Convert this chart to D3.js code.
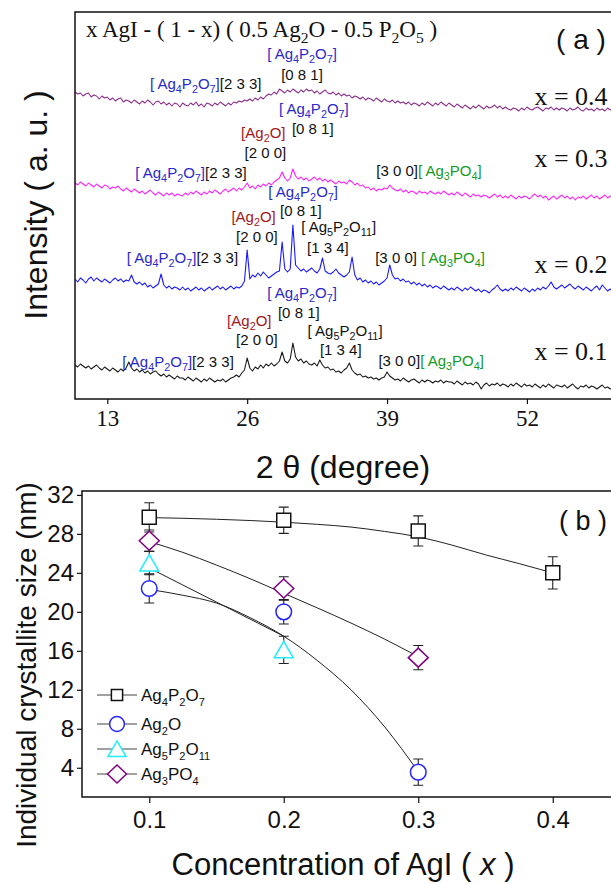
<!DOCTYPE html>
<html>
<head>
<meta charset="utf-8">
<title>XRD patterns and crystallite size</title>
<style>
body { margin: 0; background: #fff; }
svg text { font-family: "Liberation Sans", Arial, sans-serif; }
.serif, .serif text { font-family: "Liberation Serif", "Times New Roman", serif; }
</style>
</head>
<body>
<svg id="fig" width="611" height="884"></svg>
<script src="https://cdnjs.cloudflare.com/ajax/libs/d3/7.8.5/d3.min.js"></script>
<script>

// ---- panel (a): XRD patterns, 2theta grid 10..60 step 0.25 ----
var twoTheta = d3.range(10, 60.001, 0.25);

var xrd04 = [
  307,305,306,303,305,306,302,304,303,300,303,301,302,299,301,298,300,301,297,299,
  298,296,299,297,295,298,296,299,297,294,297,298,295,297,294,296,293,296,295,292,
  296,294,293,296,294,297,293,295,292,296,295,293,296,294,297,295,293,296,294,297,
  296,298,297,299,298,300,298,301,299,302,300,303,305,304,307,305,310,308,306,309,
  307,310,308,306,309,307,310,308,309,306,308,305,307,309,306,305,307,304,306,303,
  305,303,304,301,303,302,300,302,299,301,300,298,301,299,297,300,298,297,299,296,
  298,296,297,295,297,294,296,295,293,296,294,297,295,293,296,294,297,295,293,296,
  294,292,295,293,291,294,292,290,293,291,294,292,290,293,291,292,294,291,293,290,
  292,290,289,291,290,288,291,289,292,290,289,291,292,290,288,291,290,292,289,291,
  289,291,290,288,291,289,290,292,289,288,291,289,290,288,291,289,290,288,291,289,
  290];

var xrd03 = [
  216,214,217,215,213,216,214,212,215,213,211,214,213,210,212,211,213,210,208,211,
  209,207,210,208,206,208,205,207,209,206,204,207,205,203,206,204,206,203,205,204,
  203,206,204,207,205,208,206,204,207,205,208,206,209,207,205,208,210,207,209,211,
  208,211,209,212,216,211,213,210,214,212,215,213,216,214,217,219,221,227,221,218,
  221,230,223,220,222,219,221,218,220,222,219,221,218,220,217,219,217,215,218,216,
  217,215,219,217,214,216,213,214,211,212,209,211,208,210,209,211,210,214,211,209,
  208,210,207,209,206,208,207,205,208,206,207,205,208,206,205,207,205,208,206,204,
  206,204,207,205,203,206,204,202,205,203,204,202,204,203,201,203,205,202,204,201,
  203,201,204,202,200,203,201,203,202,200,203,205,202,204,201,203,199,201,203,200,
  202,204,201,203,200,202,199,202,201,203,200,202,204,201,203,200,202,204,201,203,
  202];

var xrd02 = [
  120,117,121,119,116,120,122,118,121,119,117,120,118,116,119,121,118,120,117,119,
  118,124,117,115,117,114,116,112,114,111,113,115,125,114,111,113,110,112,111,109,
  112,109,111,108,110,112,109,111,108,110,112,109,111,113,110,112,109,111,113,110,
  112,111,113,118,149,120,124,122,126,123,127,124,121,123,125,127,128,157,130,127,
  130,174,134,131,128,130,127,129,131,128,126,130,141,128,126,125,127,130,126,124,
  122,124,127,142,124,119,121,117,119,116,118,115,117,114,116,118,121,134,124,120,
  121,118,120,117,118,115,117,114,116,113,115,112,114,111,113,112,110,113,111,109,
  111,109,112,110,108,111,109,112,110,108,110,107,109,108,106,109,111,114,110,108,
  110,108,111,109,112,110,108,111,109,107,110,108,111,109,112,110,113,117,112,110,
  112,114,111,113,115,112,110,113,111,109,112,110,108,111,113,109,114,111,108,110,
  107];

var xrd01 = [
  34,32,35,33,31,33,30,32,34,31,29,32,30,28,31,29,27,30,28,31,
  37,31,28,30,27,29,26,28,25,27,28,25,23,25,22,24,22,20,23,21,
  21,19,22,20,18,21,19,17,20,18,21,19,17,19,18,20,17,19,21,22,
  24,22,26,29,41,31,28,32,30,34,31,35,33,36,33,35,38,47,38,36,
  40,56,42,38,40,36,38,35,34,36,33,39,34,31,32,29,30,27,28,26,
  29,31,36,29,26,24,25,22,23,21,22,20,21,19,21,22,27,23,21,19,
  20,18,21,19,17,19,20,18,16,19,17,19,18,16,18,17,19,16,18,17,
  17,15,18,16,14,17,15,16,14,17,15,10,14,16,13,15,14,16,13,15,
  14,12,15,13,16,14,12,15,13,14,12,15,13,11,14,12,15,13,11,14,
  13,12,14,11,13,15,12,10,13,12,14,11,13,12,10,12,14,11,12,10,
  11];

var compositions = ['x = 0.4', 'x = 0.3', 'x = 0.2', 'x = 0.1'];
var compositionLevel = [294, 232, 126, 39];   // a.u. at label baseline
var thetaTicks = [13, 26, 39, 52];

// peak labels: [2theta, intensity, anchor, segments...]
var peakLabels = [
  [16.97, 310, 'start', '[ Ag{4}P{2}O{7}]', '[2 3 3]'],
  [31.1, 340, 'middle', '[ Ag{4}P{2}O{7}]'],
  [31.1, 319, 'middle', '[0 8 1]'],

  [32.2, 285, 'middle', '[ Ag{4}P{2}O{7}]'],
  [32.1, 265, 'middle', '[0 8 1]'],
  [27.5, 261, 'middle', '[Ag{2}O]'],
  [27.7, 241, 'middle', '[2 0 0]'],
  [15.6, 221, 'start', '[ Ag{4}P{2}O{7}]', '[2 3 3]'],
  [38.0, 223, 'start', '[3 0 0]', '[ Ag{3}PO{4}]'],

  [31.2, 202, 'middle', '[ Ag{4}P{2}O{7}]'],
  [31.0, 183, 'middle', '[0 8 1]'],
  [26.6, 177, 'middle', '[Ag{2}O]'],
  [26.9, 157, 'middle', '[2 0 0]'],
  [34.5, 167, 'middle', '[ Ag{5}P{2}O{11}]'],
  [33.5, 146, 'middle', '[1 3 4]'],
  [14.8, 136, 'start', '[ Ag{4}P{2}O{7}]', '[2 3 3]'],
  [37.9, 136, 'start', '[3 0 0] ', '[ Ag{3}PO{4}]'],

  [31.1, 101, 'middle', '[ Ag{4}P{2}O{7}]'],
  [30.8, 81, 'middle', '[0 8 1]'],
  [26.2, 73, 'middle', '[Ag{2}O]'],
  [26.9, 54, 'middle', '[2 0 0]'],
  [35.1, 63, 'middle', '[ Ag{5}P{2}O{11}]'],
  [34.7, 44, 'middle', '[1 3 4]'],
  [14.4, 32, 'start', '[ Ag{4}P{2}O{7}]', '[2 3 3]'],
  [38.2, 33, 'start', '[3 0 0]', '[ Ag{3}PO{4}]']
];

// ---- panel (b): crystallite size vs AgI content ----
var concentration = [0.1, 0.2, 0.3, 0.4];
var sizeAg4P2O7 = [29.7, 29.4, 28.3, 24.0];
var errAg4P2O7 = [1.5, 1.35, 1.55, 1.65];
var sizeAg2O = [22.4, 20.0, 3.55];
var errAg2O = [1.5, 1.25, 1.35];
var sizeAg5P2O11 = [25.0, 16.1];
var errAg5P2O11 = [1.2, 1.4];
var sizeAg3PO4 = [27.3, 22.4, 15.3];
var errAg3PO4 = [1.1, 1.2, 1.25];

// fitted curves, read at x = 0.1, 0.125, 0.15 ...
var fitX = [0.1, 0.125, 0.15, 0.175, 0.2, 0.225, 0.25, 0.275, 0.3, 0.325, 0.35, 0.375, 0.4];
var fitAg4P2O7 = [29.67, 29.6, 29.5, 29.37, 29.2, 28.98, 28.7, 28.25, 27.7, 26.85, 25.85, 24.95, 24.0];
var fitAg2O = [22.3, 21.7, 20.9, 19.4, 17.5, 15.0, 12.0, 8.2, 3.6];
var fitAg5P2O11 = [24.5, 22.75, 21.0, 19.25, 17.5];
var fitAg3PO4 = [27.2, 26.1, 24.8, 23.4, 21.9, 20.4, 18.85, 17.2, 15.4];

var sizeTicks = [4, 8, 12, 16, 20, 24, 28, 32];
var concTicks = [0.1, 0.2, 0.3, 0.4];

// ---------------------------------------------------------------
var BLUE = '#2a2ac8', RED = '#a3161a', GREEN = '#169a1e', INK = '#111';
var phaseColor = [['Ag{4}P{2}O{7}', BLUE], ['Ag{2}O', RED], ['Ag{3}PO{4}', GREEN]];

function segColor(s) {
  for (var i = 0; i < phaseColor.length; i++) {
    if (s.indexOf(phaseColor[i][0]) >= 0) return phaseColor[i][1];
  }
  return INK;
}

// write "Ag{4}P{2}O{7}" with subscripts into a text element
function addRich(text, str, size, color, subScale) {
  var parts = str.split(/(\{[^}]*\})/), lowered = false, shift = size * 0.28;
  subScale = subScale || 0.62;
  parts.forEach(function(p) {
    if (!p) return;
    var sub = p.charAt(0) === '{';
    var t = text.append('tspan').attr('fill', color).text(sub ? p.slice(1, -1) : p);
    if (sub) {
      t.style('font-size', (size * subScale) + 'px');
      if (!lowered) { t.attr('dy', shift); lowered = true; }
    } else if (lowered) {
      t.attr('dy', -shift);
      lowered = false;
    }
  });
}

var svg = d3.select('#fig');

// ================= panel (a) =================
var xA = d3.scaleLinear().domain([10, 60]).range([75, 613]);
var yA = d3.scaleLinear().domain([0, 387]).range([399, 12]);

var gA = svg.append('g');

var traces = [xrd04, xrd03, xrd02, xrd01];
var traceColors = ['#8b2d8b', '#ff22ff', '#1a1aff', '#1a1a1a'];

var line = d3.line()
    .x(function(d, i) { return xA(twoTheta[i]); })
    .y(function(d) { return yA(d); });

gA.selectAll('path.trace')
    .data(traces)
  .enter().append('path')
    .attr('class', 'trace')
    .attr('d', line)
    .attr('fill', 'none')
    .attr('stroke', function(d, i) { return traceColors[i]; })
    .attr('stroke-width', 1.1)
    .attr('stroke-linejoin', 'round');

gA.append('rect')
    .attr('x', xA(10)).attr('y', yA(387))
    .attr('width', xA(60) - xA(10)).attr('height', yA(0) - yA(387))
    .attr('fill', 'none').attr('stroke', INK).attr('stroke-width', 1.5);

var axA = gA.append('g')
    .attr('class', 'serif')
    .attr('transform', 'translate(0,' + yA(0) + ')')
    .call(d3.axisBottom(xA).tickValues(thetaTicks).tickSize(5).tickPadding(6));
axA.select('.domain').remove();
axA.selectAll('line').attr('stroke', INK).attr('stroke-width', 1.2);
axA.selectAll('text').attr('fill', INK).style('font-size', '23px');

gA.append('text')
    .attr('x', 343).attr('y', 478)
    .attr('text-anchor', 'middle')
    .style('font-size', '32px')
    .attr('fill', INK)
    .text('2 \u03b8 (degree)');

gA.append('text')
    .attr('transform', 'translate(47,205) rotate(-90)')
    .attr('text-anchor', 'middle')
    .style('font-size', '32px')
    .attr('fill', INK)
    .text('Intensity ( a. u. )');

var title = gA.append('text').attr('class', 'serif')
    .attr('x', 86).attr('y', 37)
    .style('font-size', '23px');
addRich(title, 'x AgI - ( 1 - x) ( 0.5 Ag{2}O - 0.5 P{2}O{5} )', 23, INK, 0.68);

gA.append('text')
    .attr('x', 581).attr('y', 49)
    .attr('text-anchor', 'middle')
    .style('font-size', '28px')
    .attr('fill', INK)
    .text('( a )');

gA.selectAll('text.comp')
    .data(compositions)
  .enter().append('text')
    .attr('class', 'comp serif')
    .attr('x', xA(59.5))
    .attr('y', function(d, i) { return yA(compositionLevel[i]); })
    .attr('text-anchor', 'end')
    .style('font-size', '26px')
    .attr('fill', INK)
    .text(function(d) { return d; });

peakLabels.forEach(function(l) {
  var t = gA.append('text')
      .attr('x', xA(l[0])).attr('y', yA(l[1]))
      .attr('text-anchor', l[2])
      .style('font-size', '15px');
  l.slice(3).forEach(function(s) { addRich(t, s, 15, segColor(s), 0.72); });
});

// ================= panel (b) =================
var xB = d3.scaleLinear().domain([0.05, 0.45]).range([82, 620]);
var yB = d3.scaleLinear().domain([1.0, 32.4]).range([797, 491]);

var gB = svg.append('g');

gB.append('rect')
    .attr('x', xB(0.05)).attr('y', yB(32.4))
    .attr('width', xB(0.45) - xB(0.05)).attr('height', yB(1.0) - yB(32.4))
    .attr('fill', 'none').attr('stroke', INK).attr('stroke-width', 1.5);

var axBy = gB.append('g')
    .attr('transform', 'translate(' + xB(0.05) + ',0)')
    .call(d3.axisLeft(yB).tickValues(sizeTicks).tickSize(5).tickPadding(3));
var axBx = gB.append('g')
    .attr('transform', 'translate(0,' + yB(1.0) + ')')
    .call(d3.axisBottom(xB).tickValues(concTicks).tickSize(6).tickPadding(8)
      .tickFormat(d3.format('.1f')));
[axBy, axBx].forEach(function(ax) {
  ax.select('.domain').remove();
  ax.selectAll('line').attr('stroke', INK).attr('stroke-width', 1.2);
  ax.selectAll('text').attr('fill', INK).style('font-size', '24px');
});

gB.append('text')
    .attr('transform', 'translate(36,665) rotate(-90)')
    .attr('text-anchor', 'middle')
    .style('font-size', '28px')
    .attr('fill', INK)
    .text('Individual crystallite size (nm)');

var xl = gB.append('text')
    .attr('x', 343).attr('y', 875)
    .attr('text-anchor', 'middle')
    .style('font-size', '31px')
    .attr('fill', INK);
xl.append('tspan').text('Concentration of AgI ( ');
xl.append('tspan').style('font-style', 'italic').text('x');
xl.append('tspan').text(' )');

gB.append('text')
    .attr('x', 583).attr('y', 530)
    .attr('text-anchor', 'middle')
    .style('font-size', '27px')
    .attr('fill', INK)
    .text('( b )');

function markerPath(kind, s) {
  s = s || 1;
  if (kind === 'square') {
    var h = 7 * s;
    return 'M' + (-h) + ',' + (-h) + 'H' + h + 'V' + h + 'H' + (-h) + 'Z';
  }
  if (kind === 'circle') {
    var r = 7.8 * s;
    return 'M' + (-r) + ',0A' + r + ',' + r + ' 0 1,0 ' + r + ',0A' + r + ',' + r + ' 0 1,0 ' + (-r) + ',0Z';
  }
  if (kind === 'triangle') {
    return 'M0,' + (-8.5 * s) + 'L' + (9.5 * s) + ',' + (8 * s) + 'L' + (-9.5 * s) + ',' + (8 * s) + 'Z';
  }
  return 'M0,' + (-9.5 * s) + 'L' + (10 * s) + ',0L0,' + (9.5 * s) + 'L' + (-10 * s) + ',0Z';
}

var seriesB = [
  { name: 'Ag{4}P{2}O{7}', kind: 'square', color: INK, y: sizeAg4P2O7, e: errAg4P2O7, fit: fitAg4P2O7 },
  { name: 'Ag{2}O', kind: 'circle', color: '#2424ff', y: sizeAg2O, e: errAg2O, fit: fitAg2O },
  { name: 'Ag{5}P{2}O{11}', kind: 'triangle', color: '#22eeff', y: sizeAg5P2O11, e: errAg5P2O11, fit: fitAg5P2O11 },
  { name: 'Ag{3}PO{4}', kind: 'diamond', color: '#800080', y: sizeAg3PO4, e: errAg3PO4, fit: fitAg3PO4 }
];

var fitLine = d3.line()
    .x(function(d, i) { return xB(fitX[i]); })
    .y(function(d) { return yB(d); })
    .curve(d3.curveMonotoneX);

seriesB.forEach(function(s) {
  gB.append('path')
      .attr('d', fitLine(s.fit))
      .attr('fill', 'none')
      .attr('stroke', '#222')
      .attr('stroke-width', 1);
});

seriesB.forEach(function(s) {
  var g = gB.append('g');
  s.y.forEach(function(v, i) {
    var cx = xB(concentration[i]), top = yB(v + s.e[i]), bot = yB(v - s.e[i]);
    g.append('path')
        .attr('d', 'M' + cx + ',' + top + 'V' + bot +
                   'M' + (cx - 5) + ',' + top + 'H' + (cx + 5) +
                   'M' + (cx - 5) + ',' + bot + 'H' + (cx + 5))
        .attr('fill', 'none').attr('stroke', '#222').attr('stroke-width', 1.1);
  });
});

seriesB.forEach(function(s) {
  gB.append('g').selectAll('path')
      .data(s.y)
    .enter().append('path')
      .attr('transform', function(d, i) { return 'translate(' + xB(concentration[i]) + ',' + yB(d) + ')'; })
      .attr('d', markerPath(s.kind))
      .attr('fill', '#fff')
      .attr('stroke', s.color)
      .attr('stroke-width', 1.5);
});

// legend
var legendRows = [695, 724, 749, 774];
var lg = gB.append('g');
seriesB.forEach(function(s, i) {
  var row = lg.append('g').attr('transform', 'translate(117,' + legendRows[i] + ')');
  row.append('line').attr('x1', -20).attr('x2', 20)
      .attr('stroke', '#444').attr('stroke-width', 1);
  row.append('path').attr('d', markerPath(s.kind, s.kind === 'square' ? 0.8 : 0.95))
      .attr('fill', '#fff').attr('stroke', s.color).attr('stroke-width', 1.5);
  var t = row.append('text').attr('x', 24).attr('y', 6).style('font-size', '17px');
  addRich(t, s.name, 17, INK, 0.65);
});

</script>
</body>
</html>
